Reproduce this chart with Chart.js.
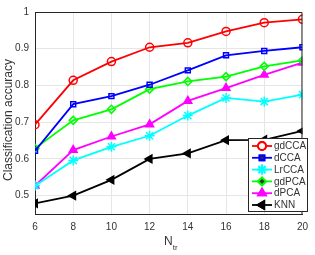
<!DOCTYPE html>
<html>
<head>
<meta charset="utf-8">
<script src="https://cdn.jsdelivr.net/npm/chart.js@4"></script>
<style>
  html, body { margin: 0; padding: 0; background: #fff; }
  #wrap { width: 315px; height: 255px; }
</style>
</head>
<body>
<div id="wrap"><canvas id="chart-acc"></canvas></div>
<script>
const nTrain = [6, 8, 10, 12, 14, 16, 18, 20];
const gdCCA = [0.693, 0.814, 0.865, 0.904, 0.916, 0.947, 0.971, 0.980];
const dCCA  = [0.622, 0.749, 0.771, 0.802, 0.841, 0.882, 0.894, 0.904];
const LrCCA = [0.527, 0.596, 0.633, 0.663, 0.718, 0.766, 0.756, 0.775];
const gdPCA = [0.629, 0.705, 0.735, 0.790, 0.811, 0.824, 0.852, 0.868];
const dPCA  = [0.527, 0.624, 0.661, 0.694, 0.758, 0.793, 0.829, 0.862];
const KNN   = [0.479, 0.500, 0.543, 0.600, 0.615, 0.651, 0.652, 0.676];
const yTicks = [0.5, 0.6, 0.7, 0.8, 0.9, 1];

const FONT = 'Liberation Sans, Arial, sans-serif';
const TEXT = '#333333';

function series(label, data, color, style, opts) {
  return Object.assign({
    label: label,
    data: data.map((v, i) => ({ x: nTrain[i], y: v })),
    borderColor: color,
    backgroundColor: color,
    borderWidth: 1.8,
    pointStyle: style,
    pointRadius: 4,
    pointBorderWidth: 1.5,
    pointBorderColor: color,
    pointBackgroundColor: 'rgba(255,255,255,0)',
    tension: 0
  }, opts || {});
}

const datasets = [
  series('gdCCA', gdCCA, '#ff0000', 'circle'),
  series('dCCA', dCCA, '#0000ff', 'rect', { pointRadius: 3.5 }),
  series('LrCCA', LrCCA, '#00ffff', 'star', { pointRadius: 5 }),
  series('gdPCA', gdPCA, '#00ff00', 'rectRot'),
  series('dPCA', dPCA, '#ff00ff', 'triangle', { pointBackgroundColor: '#ff00ff', pointRadius: 4.5 }),
  series('KNN', KNN, '#000000', 'triangle', { pointBackgroundColor: '#000000', pointRotation: -90, pointRadius: 4.5 })
];

// box, axis titles and the in-plot legend
const extras = {
  id: 'extras',
  afterDraw(chart) {
    const c = chart.ctx;
    const area = chart.chartArea;
    c.save();
    c.strokeStyle = '#262626';
    c.lineWidth = 1;
    c.beginPath();
    c.moveTo(area.left, area.top + 0.5);
    c.lineTo(area.right - 0.5, area.top + 0.5);
    c.lineTo(area.right - 0.5, area.bottom);
    c.stroke();

    // y title
    c.fillStyle = TEXT;
    c.font = '12px ' + FONT;
    c.textAlign = 'center';
    c.textBaseline = 'middle';
    c.save();
    c.translate(9, 120);
    c.rotate(-Math.PI / 2);
    c.fillText('Classification accuracy', 0, 0);
    c.restore();

    // x title N_tr
    c.textAlign = 'left';
    c.textBaseline = 'alphabetic';
    c.font = '12px ' + FONT;
    const nW = c.measureText('N').width;
    c.fillText('N', 164, 245);
    c.font = '8px ' + FONT;
    c.fillText('tr', 164 + nW, 250);

    // legend box
    const lx = 248, ly = 138, lw = 59, lh = 73;
    c.fillStyle = '#fff';
    c.fillRect(lx, ly, lw, lh);
    c.strokeStyle = '#262626';
    c.lineWidth = 1;
    c.strokeRect(lx + 0.5, ly + 0.5, lw, lh);
    c.font = '10px ' + FONT;
    c.textBaseline = 'middle';
    chart.data.datasets.forEach((ds, i) => {
      const y = ly + 8 + i * 11.8;
      c.strokeStyle = ds.borderColor;
      c.lineWidth = ds.borderWidth;
      c.beginPath();
      c.moveTo(lx + 4, y);
      c.lineTo(lx + 24, y);
      c.stroke();
      Chart.helpers.drawPoint(c, {
        pointStyle: ds.pointStyle,
        rotation: ds.pointRotation || 0,
        radius: ds.pointRadius,
        borderWidth: ds.pointBorderWidth
      }, lx + 14, y);
      c.fillStyle = ds.pointBackgroundColor;
      c.fill();
      c.stroke();
      c.fillStyle = TEXT;
      c.fillText(ds.label, lx + 26, y + 0.5);
    });
    c.restore();
  }
};

new Chart(document.getElementById('chart-acc'), {
  type: 'line',
  data: { datasets: datasets },
  options: {
    responsive: true,
    maintainAspectRatio: false,
    animation: false,
    layout: { padding: { top: 9, right: 8, left: 0, bottom: 0 } },
    plugins: {
      legend: { display: false },
      tooltip: { enabled: false }
    },
    scales: {
      x: {
        type: 'linear',
        min: 6,
        max: 20,
        afterFit: (s) => { s.height = 41; },
        afterBuildTicks: (s) => { s.ticks = nTrain.map(v => ({ value: v })); },
        grid: { color: '#e6e6e6', drawTicks: false },
        border: { color: '#262626' },
        ticks: { color: TEXT, font: { family: FONT, size: 10 }, padding: 7 }
      },
      y: {
        min: 0.45,
        max: 1,
        afterFit: (s) => { s.width = 35; },
        afterBuildTicks: (s) => { s.ticks = yTicks.map(v => ({ value: v })); },
        grid: { color: '#e6e6e6', drawTicks: false },
        border: { color: '#262626' },
        ticks: {
          color: TEXT,
          font: { family: FONT, size: 10 },
          padding: 6,
          callback: (v) => String(Math.round(v * 10) / 10)
        }
      }
    }
  },
  plugins: [extras]
});
</script>
</body>
</html>
